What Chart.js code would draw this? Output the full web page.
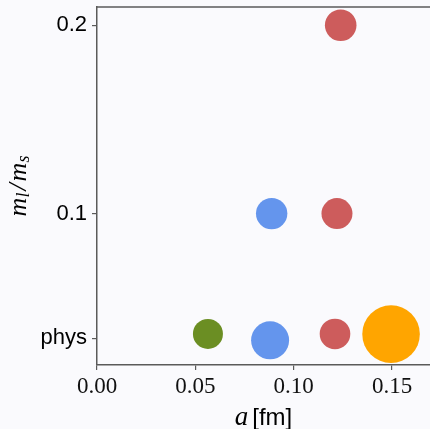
<!DOCTYPE html>
<html lang="en">
<head>
    <meta charset="UTF-8">
    <title>Ensembles: lattice spacing vs quark mass ratio</title>
    <script src="https://cdn.jsdelivr.net/npm/chart.js"></script>
    <style>
body {
    margin: 0;
    padding: 0;
    background: #fafafd;
}

.wrap {
    width: 430px;
    height: 429px;
    position: relative;
}
    </style>
</head>
<body>
    <div class="wrap">
        <canvas id="ensembles"></canvas>
    </div>
    <script>
        // ensembles: lattice spacing a [fm] and m_l/m_s
        const latticeSpacing = [0.0564, 0.0880, 0.1210, 0.1495, 0.0888, 0.1220, 0.1239];
        const massRatio      = [0.0361, 0.0327, 0.0361, 0.0360, 0.1000, 0.1000, 0.2000];
        const ensembleWeight = [15.0, 19.0, 15.3, 28.8, 15.7, 15.5, 15.8];
        const ensembleColor  = ['#6b8e23', '#6495ed', '#cd5c5c', '#ffa500', '#6495ed', '#cd5c5c', '#cd5c5c'];

        const xTicks = [0.00, 0.05, 0.10, 0.15];
        const yTicks = [0.0338, 0.1, 0.2];
        const yTickLabels = ['phys', '0.1', '0.2'];

        const spine = '#5a5a5a';

        const points = latticeSpacing.map((a, i) => ({ x: a, y: massRatio[i], r: ensembleWeight[i] }));

        // bubbles should not push the plot area inwards
        Chart.BubbleController.prototype.getMaxOverflow = function () { return false; };

        const noPad = (scale) => {
            scale.paddingLeft = 0;
            scale.paddingRight = 0;
            scale.paddingTop = 0;
            scale.paddingBottom = 0;
        };

        // top spine + axis titles with mixed fonts
        const decorations = {
            id: 'decorations',
            afterDraw(chart) {
                const c = chart.ctx;
                const area = chart.chartArea;
                c.save();
                c.strokeStyle = spine;
                c.lineWidth = 1.5;
                c.beginPath();
                c.moveTo(area.left, area.top);
                c.lineTo(area.right, area.top);
                c.stroke();

                // x title: a [fm]
                c.fillStyle = '#000';
                c.textBaseline = 'alphabetic';
                c.textAlign = 'left';
                const fa = 'italic 27px "Liberation Serif"';
                const ff = '24px "Liberation Sans"';
                c.font = fa;
                const wa = c.measureText('a').width;
                c.font = ff;
                const wf = c.measureText('[fm]').width;
                const gap = 4;
                let x0 = (area.left + area.right) / 2 - (wa + gap + wf) / 2;
                c.font = fa;
                c.fillText('a', x0, 425);
                c.font = ff;
                c.fillText('[fm]', x0 + wa + gap, 425);

                // y title: m_l / m_s  [text, font, baseline shift, space after]
                c.translate(26, (area.top + area.bottom) / 2);
                c.rotate(-Math.PI / 2);
                const big = 'italic 26px "Liberation Serif"';
                const sub = 'italic 18px "Liberation Serif"';
                const parts = [
                    ['m', big, 0, 0],
                    ['l', sub, 3, 2],
                    ['/', big, 0, 2],
                    ['m', big, 0, 0],
                    ['s', sub, 3, 0]
                ];
                let total = 0;
                parts.forEach(p => { c.font = p[1]; total += c.measureText(p[0]).width + p[3]; });
                let px = -total / 2;
                parts.forEach(p => {
                    c.font = p[1];
                    c.fillText(p[0], px, p[2]);
                    px += c.measureText(p[0]).width + p[3];
                });
                c.restore();
            }
        };

        const config = {
            type: 'bubble',
            data: {
                datasets: [{
                    data: points,
                    backgroundColor: ensembleColor,
                    borderWidth: 0,
                    hoverBorderWidth: 0
                }]
            },
            options: {
                responsive: true,
                maintainAspectRatio: false,
                animation: false,
                layout: { padding: { top: 7, right: 0, left: 0, bottom: 0 } },
                plugins: {
                    legend: { display: false },
                    tooltip: { enabled: false }
                },
                scales: {
                    x: {
                        type: 'linear',
                        min: 0,
                        max: 0.1693,
                        afterBuildTicks: (scale) => {
                            scale.ticks = xTicks.map(v => ({ value: v }));
                        },
                        afterFit: (scale) => { scale.height = 64; noPad(scale); },
                        ticks: {
                            callback: (v) => v.toFixed(2),
                            color: '#111',
                            padding: 3,
                            maxRotation: 0,
                            font: { family: '"Liberation Serif"', size: 23 }
                        },
                        grid: {
                            drawOnChartArea: false,
                            drawTicks: true,
                            tickLength: 5,
                            color: spine,
                            lineWidth: 1.2
                        },
                        border: { display: true, color: spine, width: 1.5 }
                    },
                    y: {
                        type: 'linear',
                        min: 0.0196,
                        max: 0.2097,
                        afterBuildTicks: (scale) => {
                            scale.ticks = yTicks.map(v => ({ value: v }));
                        },
                        afterFit: (scale) => { scale.width = 97; noPad(scale); },
                        ticks: {
                            callback: (v, i) => yTickLabels[i],
                            color: '#000',
                            padding: 5,
                            font: { family: '"Liberation Sans"', size: 22 }
                        },
                        grid: {
                            drawOnChartArea: false,
                            drawTicks: true,
                            tickLength: 5,
                            color: spine,
                            lineWidth: 1.2
                        },
                        border: { display: true, color: spine, width: 1.5 }
                    }
                }
            },
            plugins: [decorations]
        };

        const chart = new Chart(document.getElementById('ensembles').getContext('2d'), config);
    </script>
</body>
</html>
